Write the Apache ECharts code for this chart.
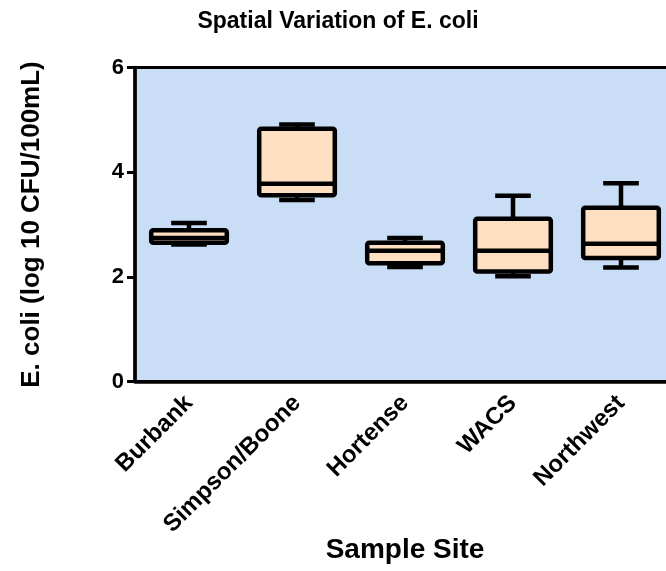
<!DOCTYPE html>
<html>
<head>
<meta charset="utf-8">
<script src="https://cdn.jsdelivr.net/npm/echarts@6/dist/echarts.min.js"></script>
<style>
html,body{margin:0;padding:0;background:#fff;}
#chart{width:666px;height:571px;}
</style>
</head>
<body>
<div id="chart"></div>
<script>
const categories = ['Burbank', 'Simpson/Boone', 'Hortense', 'WACS', 'Northwest'];
const mins    = [2.62, 3.47, 2.19, 2.01, 2.18];
const q1s     = [2.65, 3.56, 2.26, 2.10, 2.36];
const medians = [2.74, 3.78, 2.50, 2.50, 2.63];
const q3s     = [2.89, 4.83, 2.65, 3.11, 3.32];
const maxs    = [3.03, 4.91, 2.74, 3.55, 3.79];
const yTicks  = [0, 2, 4, 6];

const FONT = "'Liberation Sans', Arial, Helvetica, sans-serif";
const seriesData = categories.map((c, i) => [i, mins[i], q1s[i], medians[i], q3s[i], maxs[i]]);

const chart = echarts.init(document.getElementById('chart'));
chart.setOption({
  animation: false,
  backgroundColor: '#ffffff',
  title: {
    text: 'Spatial Variation of E. coli',
    left: 333, top: 5, textAlign: 'center',
    textStyle: { fontFamily: FONT, fontWeight: 'bold', fontSize: 23, color: '#000' }
  },
  grid: {
    left: 135, top: 67.5, width: 540, height: 314,
    containLabel: false, outerBoundsMode: 'none',
    show: true, backgroundColor: '#c9ddf6', borderColor: '#000', borderWidth: 3
  },
  xAxis: {
    type: 'category', data: categories, boundaryGap: true,
    name: 'Sample Site', nameLocation: 'middle', nameGap: 155, nameMoveOverlap: false,
    nameTextStyle: { fontFamily: FONT, fontWeight: 'bold', fontSize: 28, color: '#000' },
    axisLine: { lineStyle: { color: '#000', width: 3.5 } },
    axisTick: { alignWithLabel: true, length: 8, lineStyle: { color: '#000', width: 3 } },
    axisLabel: { rotate: 45, margin: 18, fontFamily: FONT, fontWeight: 'bold', fontSize: 24, color: '#000', interval: 0 },
    splitLine: { show: false }
  },
  yAxis: {
    type: 'value', min: 0, max: 6, interval: 2,
    name: 'E. coli (log 10 CFU/100mL)', nameLocation: 'middle', nameGap: 90,
    nameTextStyle: { fontFamily: FONT, fontWeight: 'bold', fontSize: 26, color: '#000' },
    axisLine: { show: true, lineStyle: { color: '#000', width: 3.5 } },
    axisTick: { show: true, length: 8, lineStyle: { color: '#000', width: 3 } },
    axisLabel: { margin: 11, fontFamily: FONT, fontWeight: 'bold', fontSize: 22, color: '#000',
      formatter: v => yTicks.includes(v) ? String(v) : '' },
    splitLine: { show: false }
  },
  series: [{
    type: 'custom',
    data: seriesData,
    clip: false,
    renderItem: function (params, api) {
      const idx = api.value(0);
      const vMin = api.value(1), vQ1 = api.value(2), vMed = api.value(3), vQ3 = api.value(4), vMax = api.value(5);
      const band = api.size([1, 0])[0];
      const bw = band * 0.70;
      const cw = band * 0.33;
      const cx = api.coord([idx, 0])[0];
      const yMin = api.coord([idx, vMin])[1];
      const yQ1 = api.coord([idx, vQ1])[1];
      const yMed = api.coord([idx, vMed])[1];
      const yQ3 = api.coord([idx, vQ3])[1];
      const yMax = api.coord([idx, vMax])[1];
      const lw = 4.5;
      const stroke = { stroke: '#000', lineWidth: lw, lineCap: 'butt' };
      return {
        type: 'group',
        children: [
          { type: 'line', shape: { x1: cx, y1: yQ3, x2: cx, y2: yMax }, style: stroke },
          { type: 'line', shape: { x1: cx, y1: yQ1, x2: cx, y2: yMin }, style: stroke },
          { type: 'line', shape: { x1: cx - cw / 2, y1: yMax, x2: cx + cw / 2, y2: yMax }, style: stroke },
          { type: 'line', shape: { x1: cx - cw / 2, y1: yMin, x2: cx + cw / 2, y2: yMin }, style: stroke },
          { type: 'rect', shape: { x: cx - bw / 2, y: yQ3, width: bw, height: yQ1 - yQ3, r: 2 },
            style: { fill: '#ffdfc1', stroke: '#000', lineWidth: lw, lineJoin: 'round' } },
          { type: 'line', shape: { x1: cx - bw / 2, y1: yMed, x2: cx + bw / 2, y2: yMed }, style: stroke }
        ]
      };
    }
  }]
});
</script>
</body>
</html>
